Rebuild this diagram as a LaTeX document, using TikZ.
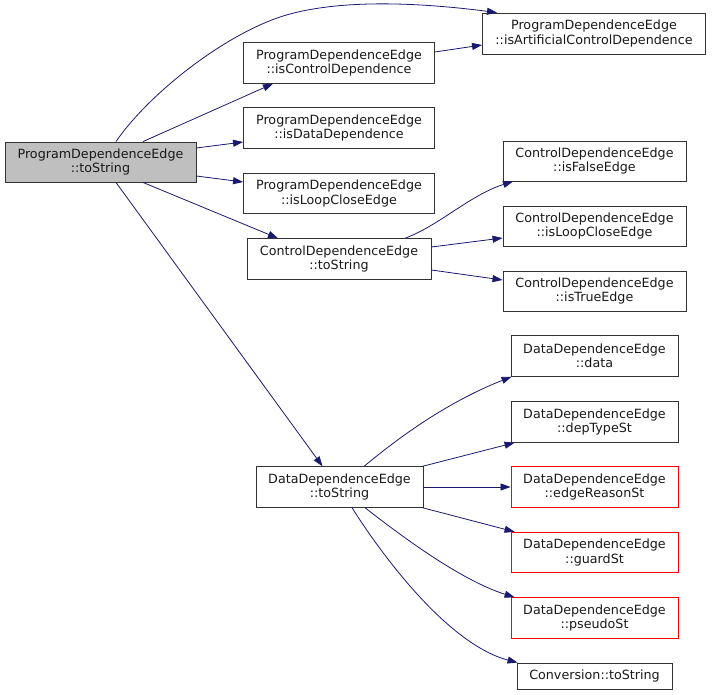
\documentclass[tikz,border=0pt]{standalone}
\usepackage{fontspec}
\setmainfont{DejaVu Sans}
\usetikzlibrary{arrows.meta}
\definecolor{edgecol}{RGB}{25,25,112}
\definecolor{rootfill}{RGB}{191,191,191}
\definecolor{redborder}{RGB}{255,0,0}
\begin{document}
\begin{tikzpicture}[x=1pt,y=-1pt,
  box/.style={draw=black!80,line width=0.9pt,inner sep=0pt,align=center,
    font=\fontsize{12.7pt}{14.5pt}\selectfont,text=black!90},
  rootbox/.style={box,fill=rootfill},
  redbox/.style={box,draw=redborder},
  conn/.style={draw=edgecol,line width=0.8pt,-{Triangle[length=10pt,width=7pt]}}]
\useasboundingbox (0,0) rectangle (712,695);
\node[rootbox,minimum width=191pt,minimum height=40pt] (ptos) at (100.5,162) {ProgramDependenceEdge\\::toString};
\node[box,minimum width=223pt,minimum height=41pt] (isArt) at (594,33.5) {ProgramDependenceEdge\\::isArtificialControlDependence};
\node[box,minimum width=191pt,minimum height=40.5pt] (isCD) at (339,63) {ProgramDependenceEdge\\::isControlDependence};
\node[box,minimum width=191pt,minimum height=40.5pt] (isDD) at (339,128) {ProgramDependenceEdge\\::isDataDependence};
\node[box,minimum width=191pt,minimum height=40.5pt] (isLC) at (339,193.5) {ProgramDependenceEdge\\::isLoopCloseEdge};
\node[box,minimum width=184pt,minimum height=40.5pt] (cdTS) at (339,259) {ControlDependenceEdge\\::toString};
\node[box,minimum width=183pt,minimum height=40pt] (cdF) at (594.5,161) {ControlDependenceEdge\\::isFalseEdge};
\node[box,minimum width=183pt,minimum height=40pt] (cdL) at (594.5,226) {ControlDependenceEdge\\::isLoopCloseEdge};
\node[box,minimum width=183pt,minimum height=40pt] (cdT) at (594.5,291) {ControlDependenceEdge\\::isTrueEdge};
\node[box,minimum width=167pt,minimum height=40.5pt] (dData) at (594.5,356) {DataDependenceEdge\\::data};
\node[box,minimum width=167pt,minimum height=40.5pt] (dDep) at (594.5,422) {DataDependenceEdge\\::depTypeSt};
\node[redbox,minimum width=167pt,minimum height=40.5pt] (dEdge) at (594.5,487) {DataDependenceEdge\\::edgeReasonSt};
\node[redbox,minimum width=167pt,minimum height=40.5pt] (dGuard) at (594.5,552.5) {DataDependenceEdge\\::guardSt};
\node[redbox,minimum width=167pt,minimum height=40.5pt] (dPseudo) at (594.5,618) {DataDependenceEdge\\::pseudoSt};
\node[box,minimum width=155pt,minimum height=26pt] (conv) at (594.5,676) {Conversion::toString};
\node[box,minimum width=167pt,minimum height=40.5pt] (ddTS) at (339.5,487) {DataDependenceEdge\\::toString};
% edges from root
\draw[conn] ([xshift=15.5pt]ptos.north) .. controls (150,92) and (230,30) .. (290,14)
  .. controls (350,-2) and (430,4) .. ([xshift=-97pt]isArt.north);
\draw[conn] ([xshift=42.5pt]ptos.north) -- ([xshift=-66pt]isCD.south);
\draw[conn] ([yshift=14pt]ptos.east) -- ([yshift=-14pt]isDD.west);
\draw[conn] ([yshift=-14pt]ptos.east) -- ([yshift=11.5pt]isLC.west);
\draw[conn] ([xshift=42.5pt]ptos.south) -- ([xshift=-61pt]cdTS.north);
\draw[conn] ([xshift=15.5pt]ptos.south) -- ([xshift=-17pt]ddTS.north);
\draw[conn] ([yshift=11pt]isCD.east) -- ([yshift=-11.5pt]isArt.west);
% control dependence
\draw[conn] ([xshift=66pt]cdTS.north) .. controls (440,225) and (470,195) .. ([xshift=-81.5pt]cdF.south);
\draw[conn] ([yshift=12pt]cdTS.east) -- ([yshift=-12pt]cdL.west);
\draw[conn] ([yshift=-11pt]cdTS.east) -- ([yshift=11pt]cdT.west);
% data dependence
\draw[conn] ([xshift=24.5pt]ddTS.north) .. controls (390,445) and (440,405) .. ([xshift=1pt]dData.south west);
\draw[conn] ([xshift=-1pt]ddTS.north east) -- ([xshift=4pt]dDep.south west);
\draw[conn] (ddTS.east) -- (dEdge.west);
\draw[conn] ([xshift=-1pt]ddTS.south east) -- ([xshift=4pt]dGuard.north west);
\draw[conn] ([xshift=25.5pt]ddTS.south) .. controls (400,535) and (460,580) .. ([xshift=4pt]dPseudo.north west);
\draw[conn] ([xshift=12.5pt]ddTS.south) .. controls (385,560) and (450,645) .. ([xshift=1pt]conv.north west);
\end{tikzpicture}
\end{document}
